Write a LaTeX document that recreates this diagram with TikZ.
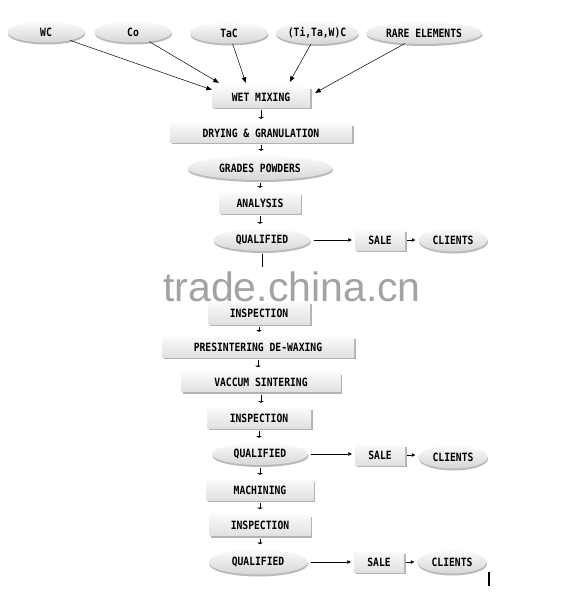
\documentclass[tikz,border=0pt]{standalone}
\usepackage{fontspec}
\setmainfont{Liberation Sans}
\newfontfamily\boxfont[FakeStretch=0.85]{DejaVu Sans Mono}
\usetikzlibrary{shapes.geometric,shadows,arrows.meta}
\tikzset{
  lbl/.style={font=\boxfont\bfseries\fontsize{11.4}{12}\selectfont, inner sep=0pt},
  boxnode/.style={lbl, rectangle, top color=white!96!gray, bottom color=gray!24,
    drop shadow={shadow xshift=1.5pt, shadow yshift=-2pt, opacity=0.6, fill=gray}},
  ellnode/.style={lbl, ellipse, top color=white!97!gray, bottom color=gray!32,
    drop shadow={shadow xshift=0.5pt, shadow yshift=-2pt, opacity=0.55, fill=gray}},
  arr/.style={-{Triangle[length=5.5pt,width=4.5pt]}, line width=0.5pt},
  harr/.style={-{Triangle[length=3.5pt,width=3.5pt]}, line width=0.6pt},
  varr/.style={-{Latex[length=1.6pt,width=6pt]}, line width=0.6pt, shorten <=3pt, shorten >=5pt},
}
\begin{document}
\begin{tikzpicture}[x=1pt,y=-1pt]
\useasboundingbox (0,0) rectangle (583,600);
\fill[white] (0,0) rectangle (583,600);
% top ellipses
\node[ellnode, minimum width=77pt, minimum height=21pt] (WC) at (46,32) {WC};
\node[ellnode, minimum width=77pt, minimum height=21pt] (Co) at (133,32) {Co};
\node[ellnode, minimum width=78pt, minimum height=21pt] (TaC) at (229,33) {TaC};
\node[ellnode, minimum width=79pt, minimum height=22pt] (TTW) at (317,33) {(Ti,Ta,W)C};
\node[ellnode, minimum width=116pt, minimum height=22pt] (RARE) at (424,33) {RARE ELEMENTS};
% main column
\node[boxnode, minimum width=98pt, minimum height=20pt] (wet) at (261,97) {WET MIXING};
\node[boxnode, minimum width=182pt, minimum height=18pt] (dry) at (261,133) {DRYING \& GRANULATION};
\node[ellnode, minimum width=145pt, minimum height=24pt] (grades) at (260,168) {GRADES POWDERS};
\node[boxnode, minimum width=81pt, minimum height=20pt] (ana) at (260,203) {ANALYSIS};
\node[ellnode, minimum width=97pt, minimum height=22pt] (q1) at (262,240) {QUALIFIED};
\node[boxnode, minimum width=50pt, minimum height=20pt] (s1) at (380,240) {SALE};
\node[ellnode, minimum width=69pt, minimum height=23pt] (c1) at (453,240) {CLIENTS};
\node[boxnode, minimum width=102pt, minimum height=22pt] (insp1) at (259,313) {INSPECTION};
\node[boxnode, minimum width=192pt, minimum height=20pt] (pres) at (258,347) {PRESINTERING DE-WAXING};
\node[boxnode, minimum width=159pt, minimum height=19pt] (vac) at (261,382) {VACCUM SINTERING};
\node[boxnode, minimum width=104pt, minimum height=20pt] (insp2) at (259,418) {INSPECTION};
\node[ellnode, minimum width=96pt, minimum height=22pt] (q2) at (260,454) {QUALIFIED};
\node[boxnode, minimum width=50pt, minimum height=20pt] (s2) at (380,455) {SALE};
\node[ellnode, minimum width=69pt, minimum height=23pt] (c2) at (453,457) {CLIENTS};
\node[boxnode, minimum width=107pt, minimum height=20pt] (mach) at (260,490) {MACHINING};
\node[boxnode, minimum width=101pt, minimum height=21pt] (insp3) at (260,525) {INSPECTION};
\node[ellnode, minimum width=99pt, minimum height=25pt] (q3) at (258,562) {QUALIFIED};
\node[boxnode, minimum width=50pt, minimum height=20pt] (s3) at (379,562) {SALE};
\node[ellnode, minimum width=69pt, minimum height=23pt] (c3) at (452,562) {CLIENTS};
% top arrows
\draw[arr] (WC) -- ([yshift=-3pt]wet.north west);
\draw[arr] (Co) -- ([xshift=7pt,yshift=4pt]wet.north west);
\draw[arr] (TaC) -- ([xshift=34pt,yshift=4pt]wet.north west);
\draw[arr] (TTW) -- ([xshift=78pt,yshift=5pt]wet.north west);
\draw[arr] (RARE) -- ([xshift=5pt,yshift=-6pt]wet.north east);
% vertical arrows
\draw[varr] (wet) -- (wet |- dry.north);
\draw[varr] (dry) -- (dry |- grades.north);
\draw[varr] (grades) -- (grades |- ana.north);
\draw[varr] (ana) -- (ana |- q1.north);
\coordinate (q1down) at ([yshift=-16pt]q1.south);
\draw[line width=0.6pt, shorten <=3pt] (q1.south) -- (q1down);
\draw[varr] (insp1.south) -- (insp1.south |- pres.north);
\draw[varr] (pres.south) -- (pres.south |- vac.north);
\draw[varr] (vac.south) -- (vac.south |- insp2.north);
\draw[varr] (insp2.south) -- (insp2.south |- q2.north);
\draw[varr] (q2.south) -- (q2.south |- mach.north);
\draw[varr] (mach.south) -- (mach.south |- insp3.north);
\draw[varr] (insp3.south) -- (insp3.south |- q3.north);
% horizontal arrows
\draw[harr, shorten <=3pt, shorten >=3pt] (q1) -- (s1);
\draw[harr, shorten <=2pt, shorten >=3pt] (s1) -- (c1);
\draw[harr, shorten <=3pt, shorten >=3pt] (q2.east) -- (q2.east -| s2.west);
\draw[harr, shorten <=2pt, shorten >=3pt] (s2) -- (s2 -| c2.west);
\draw[harr, shorten <=3pt, shorten >=3pt] (q3) -- (s3);
\draw[harr, shorten <=2pt, shorten >=3pt] (s3) -- (c3);
% watermark
\node[anchor=base, inner sep=0pt, text=black!42, opacity=0.85, font=\fontsize{41}{41}\selectfont] (wm) at (292,301) {trade.china.cn};
% small bar
\draw[line width=1.6pt] (489,572) -- (489,586);
\end{tikzpicture}
\end{document}
